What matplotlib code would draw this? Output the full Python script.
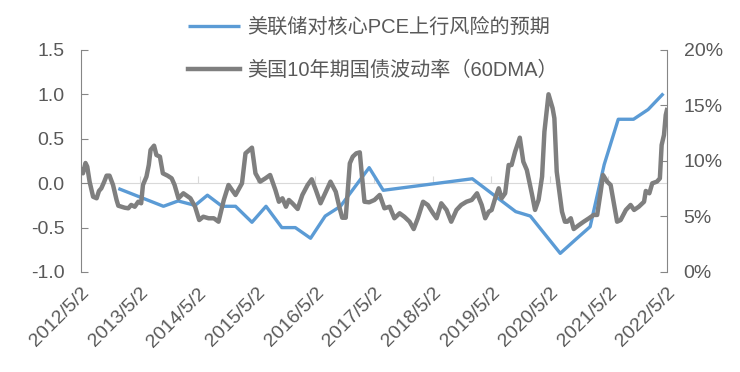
import matplotlib
matplotlib.use("Agg")
import matplotlib.pyplot as plt
import pandas as pd

plt.rcParams['font.family'] = ['Liberation Sans', 'Noto Sans CJK SC']
plt.rcParams['axes.unicode_minus'] = False

# 美联储对核心PCE上行风险的预期 (left axis), x in decimal years
pce_t = [2012.97, 2013.74, 2013.99, 2014.28, 2014.49, 2014.74, 2014.97, 2015.25,
         2015.49, 2015.76, 2015.99, 2016.25, 2016.50, 2016.76, 2017.25, 2017.49,
         2019.01, 2019.75, 2020.00, 2020.51, 2020.78, 2021.02, 2021.26, 2021.50,
         2021.76, 2022.01, 2022.27]
pce_v = [-0.06, -0.26, -0.20, -0.25, -0.135, -0.26, -0.26, -0.44,
         -0.26, -0.50, -0.50, -0.62, -0.37, -0.26, 0.175, -0.08,
         0.05, -0.32, -0.37, -0.79, -0.63, -0.49, 0.21, 0.72,
         0.72, 0.83, 1.01]

# 美国10年期国债波动率（60DMA）, percent (right axis)
vol_t = [2012.333, 2012.367, 2012.41, 2012.44, 2012.48, 2012.54, 2012.60, 2012.64,
         2012.68, 2012.73, 2012.77, 2012.82, 2012.88, 2012.94, 2012.97, 2013.08,
         2013.14, 2013.19, 2013.25, 2013.31, 2013.36, 2013.39, 2013.45, 2013.49,
         2013.52, 2013.58, 2013.62, 2013.68, 2013.73, 2013.81, 2013.88, 2013.93,
         2013.996, 2014.08, 2014.20, 2014.28, 2014.35, 2014.42, 2014.51, 2014.60,
         2014.68, 2014.77, 2014.85, 2014.97, 2015.08, 2015.14, 2015.25, 2015.31,
         2015.39, 2015.48, 2015.56, 2015.65, 2015.71, 2015.77, 2015.83, 2015.88,
         2015.94, 2016.03, 2016.11, 2016.20, 2016.27, 2016.34, 2016.42, 2016.51,
         2016.59, 2016.68, 2016.74, 2016.79, 2016.85, 2016.92, 2016.97, 2017.03,
         2017.09, 2017.12, 2017.17, 2017.25, 2017.34, 2017.43, 2017.51, 2017.60,
         2017.68, 2017.77, 2017.85, 2017.94, 2018.01, 2018.08, 2018.17, 2018.25,
         2018.34, 2018.40, 2018.48, 2018.57, 2018.65, 2018.74, 2018.82, 2018.91,
         2019.00, 2019.09, 2019.17, 2019.23, 2019.29, 2019.34, 2019.40, 2019.46,
         2019.51, 2019.57, 2019.63, 2019.68, 2019.74, 2019.82, 2019.88, 2019.94,
         2020.03, 2020.08, 2020.14, 2020.20, 2020.24, 2020.31, 2020.38, 2020.41,
         2020.45, 2020.54, 2020.59, 2020.63, 2020.69, 2020.74, 2020.83, 2020.91,
         2021.00, 2021.08, 2021.14, 2021.20, 2021.24, 2021.31, 2021.37, 2021.43,
         2021.48, 2021.54, 2021.63, 2021.71, 2021.77, 2021.85, 2021.94, 2021.97,
         2022.03, 2022.08, 2022.16, 2022.21, 2022.24, 2022.28, 2022.31, 2022.33]
vol_v = [9.19, 8.89, 9.82, 9.49, 8.14, 6.78, 6.64, 7.30,
         7.54, 8.14, 8.68, 8.68, 7.84, 6.49, 5.97, 5.79,
         5.74, 6.04, 5.88, 6.33, 6.19, 7.84, 8.59, 9.64,
         10.99, 11.38, 10.54, 10.39, 8.89, 8.68, 8.44, 7.84,
         6.64, 7.09, 6.64, 5.88, 4.68, 4.98, 4.84, 4.84,
         4.53, 6.49, 7.84, 6.94, 7.99, 10.69, 11.20, 8.89,
         8.14, 8.44, 8.74, 7.39, 6.33, 6.64, 5.88, 6.49,
         6.19, 5.68, 6.94, 7.84, 8.35, 7.39, 6.19, 7.23,
         8.14, 7.23, 5.88, 4.89, 4.89, 9.79, 10.39, 10.69,
         10.78, 9.04, 6.33, 6.28, 6.49, 6.94, 5.74, 5.88,
         4.84, 5.29, 4.98, 4.53, 3.87, 4.84, 6.33, 6.04,
         5.29, 4.84, 6.19, 5.59, 4.53, 5.59, 6.04, 6.33,
         6.49, 7.09, 6.04, 4.84, 5.43, 5.59, 6.64, 7.54,
         6.64, 7.09, 9.64, 9.64, 10.84, 12.10, 9.94, 9.19,
         6.94, 5.59, 6.49, 8.59, 12.64, 16.01, 14.75, 13.85,
         9.04, 5.43, 4.53, 4.53, 4.84, 3.87, 4.23, 4.53,
         4.84, 5.14, 5.14, 7.23, 8.74, 8.14, 7.84, 6.04,
         4.53, 4.68, 5.59, 6.04, 5.59, 5.88, 6.33, 7.30,
         7.09, 7.99, 8.14, 8.44, 11.44, 12.34, 14.14, 14.59]

tick_labels = ['2012/5/2', '2013/5/2', '2014/5/2', '2015/5/2', '2016/5/2', '2017/5/2',
               '2018/5/2', '2019/5/2', '2020/5/2', '2021/5/2', '2022/5/2']
left_ticks = [-1.0, -0.5, 0.0, 0.5, 1.0, 1.5]
right_ticks = [0, 5, 10, 15, 20]

label_blue = '美联储对核心PCE上行风险的预期'
label_gray = '美国10年期国债波动率（60DMA）'


def dec_year(s):
    d = pd.Timestamp(s.replace('/', '-'))
    n = 366 if d.is_leap_year else 365
    return d.year + (d.dayofyear - 1) / n


tick_pos = [dec_year(s) for s in tick_labels]

txt = '#595959'
axc = '#868686'
blue = '#5B9BD5'
gray = '#7F7F7F'

fig = plt.figure(figsize=(7.4, 3.72), dpi=100)
ax = fig.add_axes([81 / 740, 1 - 272 / 372, 586 / 740, 222 / 372])
ax2 = ax.twinx()

l1, = ax.plot(pce_t, pce_v, color=blue, lw=2.4, solid_capstyle='butt')
l2, = ax2.plot(vol_t, vol_v, color=gray, lw=3.2, solid_joinstyle='round')

ax.set_xlim(tick_pos[0], tick_pos[-1])
ax.set_ylim(-1.0, 1.5)
ax2.set_ylim(0, 20)

ax.set_yticks(left_ticks)
ax.set_yticklabels(['%.1f' % v for v in left_ticks])
ax2.set_yticks(right_ticks)
ax2.set_yticklabels(['%d%%' % v for v in right_ticks])

ax.set_xticks(tick_pos)
ax.set_xticklabels(tick_labels, rotation=45, ha='right', va='top', rotation_mode='anchor')
ax.tick_params(axis='x', length=0, pad=9, labelsize=14, labelcolor=txt)
ax.tick_params(axis='y', direction='in', length=5, color=axc, labelsize=14, labelcolor=txt, pad=12)
ax2.tick_params(axis='y', direction='in', length=5, color=axc, labelsize=14, labelcolor=txt, pad=12)

for a in (ax, ax2):
    a.spines['top'].set_visible(False)
    a.spines['bottom'].set_visible(False)
    a.spines['left'].set_color(axc)
    a.spines['right'].set_color(axc)
ax.spines['right'].set_visible(False)
ax2.spines['left'].set_visible(False)

# category axis crossing at zero
sec = ax.secondary_xaxis(0.4)
sec.set_xticks(tick_pos)
sec.tick_params(axis='x', direction='in', length=5, color='#D9D9D9', labelbottom=False)
sec.spines['bottom'].set_color('#D9D9D9')

fig.legend([l1, l2], [label_blue, label_gray], loc='upper left',
           bbox_to_anchor=(188 / 740, 1 - 18 / 372), frameon=False, fontsize=14.5,
           labelcolor=txt, handlelength=2.6, handletextpad=0.35, labelspacing=1.15,
           borderpad=0, borderaxespad=0)

fig.savefig('out.png', dpi=100)
